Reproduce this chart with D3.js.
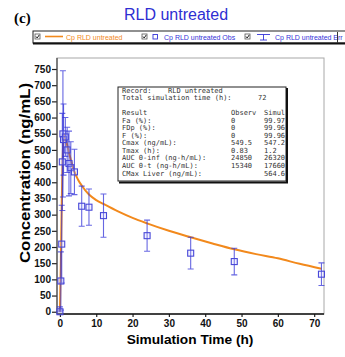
<!DOCTYPE html>
<html>
<head>
<meta charset="utf-8">
<script src="https://cdn.jsdelivr.net/npm/d3@7"></script>
<style>
  body { margin: 0; background: #fff; }
  svg { display: block; font-family: Arial, "Liberation Sans", sans-serif; }
</style>
</head>
<body>
<div id="wrapper"></div>
<script>
// observed plasma concentrations (mean, sd)
const obsTime = [0, 0.25, 0.5, 0.67, 0.83, 1, 1.5, 2, 2.5, 3, 4, 6, 8, 12, 24, 36, 48, 72];
const obsConc = [0, 95, 209, 463, 549.5, 532, 540, 500, 458, 445, 432, 326, 323, 297, 235, 181, 155, 116];
const obsErr  = [15, 90, 120, 150, 195, 110, 60, 70, 100, 80, 70, 62, 56, 67, 48, 49, 41, 35];

// simulated profile
const simTime = [0, 0.25, 0.5, 0.75, 1, 1.2, 1.5, 2, 3, 4, 5, 6, 8, 10, 12, 16, 20, 24, 30, 36, 42, 48, 54, 60, 66, 72];
const simConc = [0, 150, 330, 470, 535, 547.2, 540, 515, 470, 432, 408, 390, 362, 345, 333, 310, 290, 273, 250, 230, 211, 193, 178, 165, 148, 133];

const yTicks = d3.range(0, 751, 50);
const xTicks = [0, 10, 20, 30, 40, 50, 60, 70];

const legendItems = ["Cp RLD untreated", "Cp RLD untreated Obs", "Cp RLD untreated Err"];

const summaryRows = [
  ["Record:", "", ""],
  ["Total simulation time (h):", "", ""],
  ["", "", ""],
  ["Result", "Observ", "Simul"],
  ["Fa (%):", "0", "99.97"],
  ["FDp (%):", "0", "99.96"],
  ["F (%):", "0", "99.96"],
  ["Cmax (ng/mL):", "549.5", "547.2"],
  ["Tmax (h):", "0.83", "1.2"],
  ["AUC 0-inf (ng-h/mL):", "24850", "26320"],
  ["AUC 0-t (ng-h/mL):", "15340", "17660"],
  ["CMax Liver (ng/mL):", "", "564.6"]
];

const orange = "#f2891c";
const blue = "#3434d8";

const dimensions = {
  width: 345,
  height: 357,
  left: 57,
  right: 324,
  top: 58,
  bottom: 314
};

const svg = d3.select("#wrapper")
  .append("svg")
    .attr("width", dimensions.width)
    .attr("height", dimensions.height);

// scales
const xScale = d3.scaleLinear()
  .domain([-0.8, 72.7])
  .range([dimensions.left, dimensions.right]);

const yScale = d3.scaleLinear()
  .domain([-7, 784])
  .range([dimensions.bottom, dimensions.top]);

// panel label + title
svg.append("text")
  .attr("x", 14).attr("y", 23)
  .style("font-family", "'Liberation Serif', 'Times New Roman', serif")
  .style("font-weight", "bold")
  .style("font-size", "15px")
  .text("(c)");

svg.append("text")
  .attr("x", 176).attr("y", 20)
  .attr("text-anchor", "middle")
  .style("font-size", "16px")
  .attr("fill", "#2e2ed2")
  .text("RLD untreated");

// legend strip
const legend = svg.append("g");
legend.append("rect")
  .attr("x", 33).attr("y", 31).attr("width", 330).attr("height", 12)
  .attr("fill", "#fff").attr("stroke", "#222").attr("stroke-width", 1);
legend.append("line")
  .attr("x1", 33).attr("x2", 345).attr("y1", 43.5).attr("y2", 43.5)
  .attr("stroke", "#111").attr("stroke-width", 2);

const checkbox = (x) => {
  const g = legend.append("g").attr("transform", `translate(${x},34)`);
  g.append("rect").attr("width", 5).attr("height", 5)
    .attr("fill", "#fff").attr("stroke", "#555").attr("stroke-width", 0.8);
  g.append("path").attr("d", "M1,2.5 L2.2,4 L4.2,1")
    .attr("fill", "none").attr("stroke", "#222").attr("stroke-width", 1);
};
checkbox(35);
checkbox(142);
checkbox(245);

legend.append("line")
  .attr("x1", 45).attr("x2", 63).attr("y1", 36.5).attr("y2", 36.5)
  .attr("stroke", orange).attr("stroke-width", 1.6);
legend.append("rect")
  .attr("x", 153).attr("y", 34.5).attr("width", 4.5).attr("height", 4.5)
  .attr("fill", "none").attr("stroke", blue).attr("stroke-width", 0.9);
legend.append("path")
  .attr("d", "M257,34.5 H270 M263.5,34.5 V40 M260,40 H267")
  .attr("fill", "none").attr("stroke", blue).attr("stroke-width", 0.9);

legend.selectAll(".legend-label")
  .data(legendItems)
  .enter().append("text")
    .attr("class", "legend-label")
    .attr("x", (d, i) => [66, 164, 275][i])
    .attr("y", 39.5)
    .style("font-size", "7px")
    .attr("fill", (d, i) => i === 0 ? orange : blue)
    .text(d => d);
legend.append("line")
  .attr("x1", 337.5).attr("x2", 337.5).attr("y1", 32).attr("y2", 43)
  .attr("stroke", "#333").attr("stroke-width", 1);

// plot frame
svg.append("rect")
  .attr("x", dimensions.left).attr("y", dimensions.top)
  .attr("width", dimensions.right - dimensions.left)
  .attr("height", dimensions.bottom - dimensions.top)
  .attr("fill", "none").attr("stroke", "#a8a8a8").attr("stroke-width", 1);

// axes
const yAxis = svg.append("g")
  .attr("transform", `translate(${dimensions.left},0)`)
  .call(d3.axisLeft(yScale).tickValues(yTicks).tickSize(5).tickPadding(1));
const xAxis = svg.append("g")
  .attr("transform", `translate(0,${dimensions.bottom})`)
  .call(d3.axisBottom(xScale).tickValues(xTicks).tickSize(3).tickPadding(3));

[xAxis, yAxis].forEach(ax => {
  ax.select(".domain").remove();
  ax.selectAll("text")
    .style("font-family", "Arial, 'Liberation Sans', sans-serif")
    .style("font-size", "10px")
    .style("font-weight", "bold")
    .attr("fill", "#111");
  ax.selectAll(".tick line").attr("stroke", "#222").attr("stroke-width", 1.2);
});

svg.append("line")
  .attr("x1", dimensions.left).attr("x2", dimensions.left)
  .attr("y1", dimensions.top).attr("y2", dimensions.bottom)
  .attr("stroke", "#444").attr("stroke-width", 1.2);
svg.append("line")
  .attr("x1", dimensions.left).attr("x2", dimensions.right)
  .attr("y1", dimensions.bottom).attr("y2", dimensions.bottom)
  .attr("stroke", "#111").attr("stroke-width", 1.6);

// axis titles
svg.append("text")
  .attr("x", 190).attr("y", 344)
  .attr("text-anchor", "middle")
  .style("font-size", "13.7px").style("font-weight", "bold")
  .text("Simulation Time (h)");

svg.append("text")
  .attr("transform", "translate(30,173) rotate(-90)")
  .attr("text-anchor", "middle")
  .style("font-size", "14px").style("font-weight", "bold")
  .attr("textLength", 180).attr("lengthAdjust", "spacingAndGlyphs")
  .text("Concentration (ng/mL)");

// simulated curve
const simData = simTime.map((t, i) => ({ t, c: simConc[i] }));
const line = d3.line()
  .x(d => xScale(d.t))
  .y(d => yScale(d.c))
  .curve(d3.curveMonotoneX);

svg.append("path")
  .datum(simData)
  .attr("d", line)
  .attr("fill", "none")
  .attr("stroke", orange)
  .attr("stroke-width", 2);

// observations with error bars
const obsData = obsTime.map((t, i) => ({ t, c: obsConc[i], e: obsErr[i] }));
const obs = svg.append("g");

obs.selectAll(".err")
  .data(obsData)
  .enter().append("path")
    .attr("class", "err")
    .attr("d", d => {
      const x = xScale(d.t);
      const y1 = yScale(d.c + d.e);
      const y2 = yScale(Math.max(d.c - d.e, 0));
      return `M${x},${y1} V${y2} M${x - 3},${y1} H${x + 3} M${x - 3},${y2} H${x + 3}`;
    })
    .attr("fill", "none")
    .attr("stroke", blue)
    .attr("stroke-opacity", 0.75)
    .attr("stroke-width", 1.1);

obs.selectAll(".obs")
  .data(obsData)
  .enter().append("rect")
    .attr("class", "obs")
    .attr("x", d => xScale(d.t) - 3)
    .attr("y", d => yScale(d.c) - 3)
    .attr("width", 6)
    .attr("height", 6)
    .attr("fill", "rgba(200,200,255,0.25)")
    .attr("stroke", "#4848d8")
    .attr("stroke-width", 1.1);

// summary table
const box = svg.append("g");
box.append("rect")
  .attr("x", 118).attr("y", 87).attr("width", 168).attr("height", 94)
  .attr("fill", "#fff").attr("stroke", "#222").attr("stroke-width", 1);
box.append("path")
  .attr("d", "M287,88 V182.5 H119")
  .attr("fill", "none").attr("stroke", "#111").attr("stroke-width", 2);

const mono = "'DejaVu Sans Mono', monospace";
const rowY = i => 92.5 + i * 7.55;
const cols = [122, 231, 264];
summaryRows.forEach((row, i) => {
  row.forEach((txt, j) => {
    if (!txt) return;
    box.append("text")
      .attr("x", cols[j]).attr("y", rowY(i))
      .style("font-family", mono)
      .style("font-size", "7px")
      .attr("fill", "#333")
      .text(txt);
  });
});
box.append("text")
  .attr("x", 168).attr("y", rowY(0))
  .style("font-family", mono)
  .style("font-size", "7px").attr("fill", "#333")
  .text("RLD untreated");
box.append("text")
  .attr("x", 258).attr("y", rowY(1))
  .style("font-family", mono)
  .style("font-size", "7px").attr("fill", "#333")
  .text("72");
</script>
</body>
</html>
